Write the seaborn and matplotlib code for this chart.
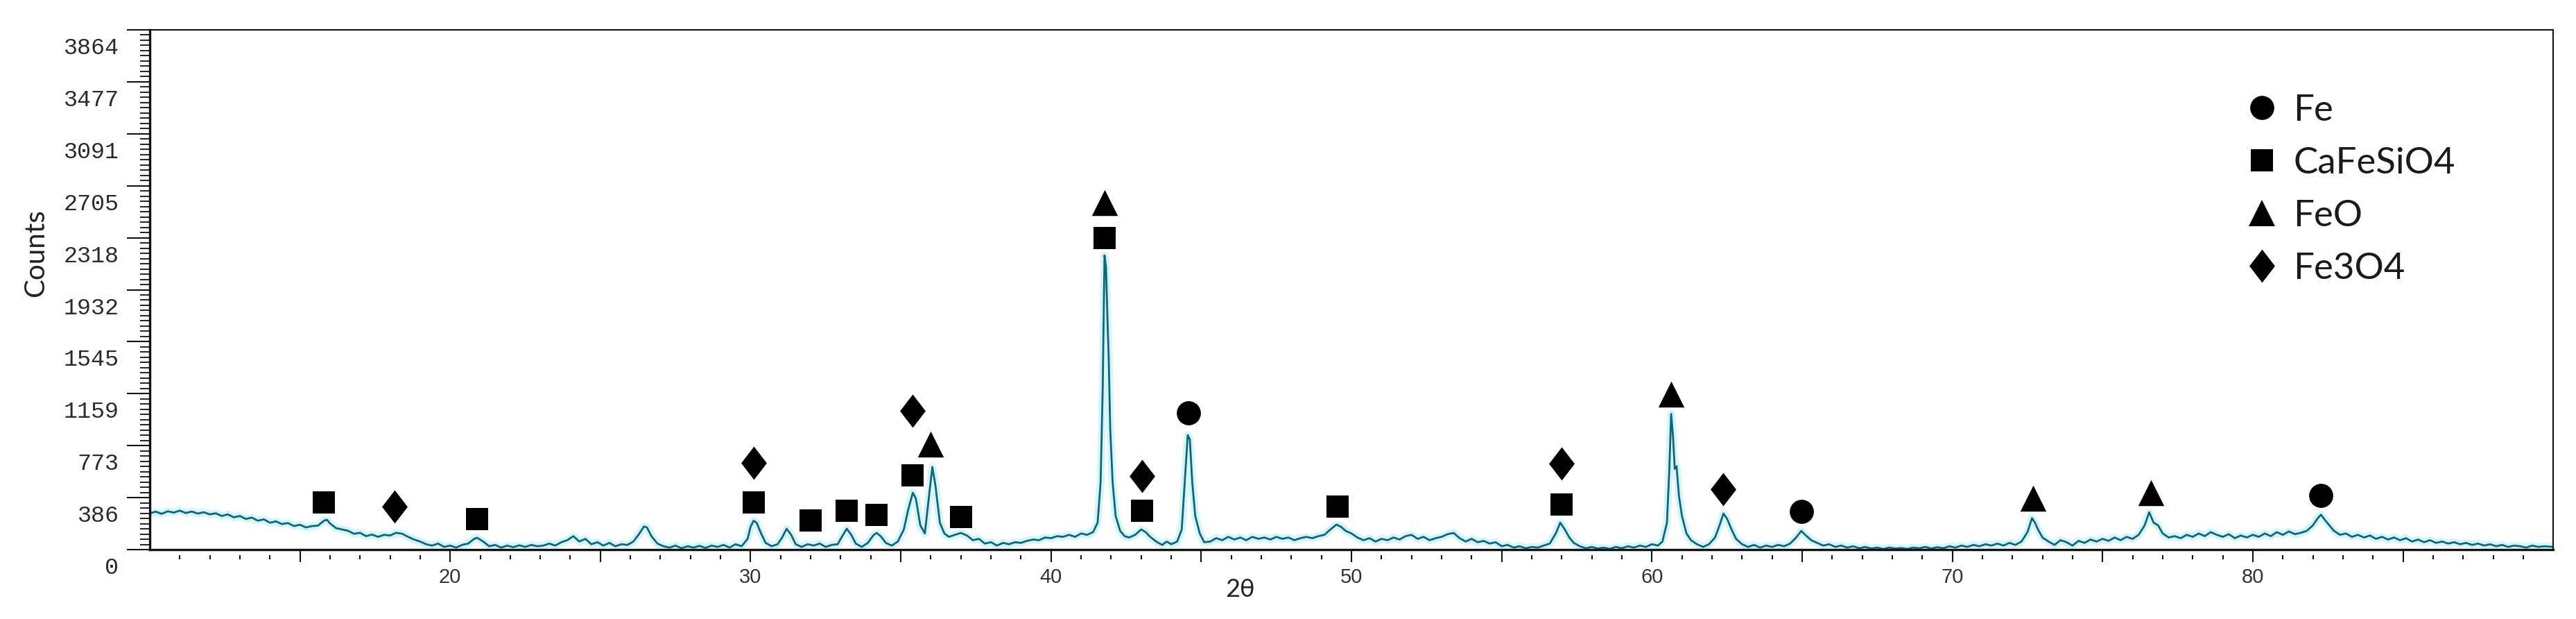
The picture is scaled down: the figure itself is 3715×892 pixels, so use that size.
import numpy as np
import pandas as pd
import matplotlib
matplotlib.use("Agg")
import matplotlib.pyplot as plt
import seaborn as sns
from matplotlib.path import Path
from matplotlib.lines import Line2D
from matplotlib.transforms import ScaledTranslation
from matplotlib.ticker import FixedLocator, MultipleLocator

# ---------------- data ----------------
pattern = [
    (10.0, 270), (10.2, 282), (10.4, 266), (10.6, 285), (10.8, 275), (11.0, 290), (11.2, 272),
    (11.4, 283), (11.6, 268), (11.8, 278), (12.0, 262), (12.2, 270), (12.4, 250), (12.6, 262),
    (12.8, 240), (13.0, 250), (13.2, 228), (13.4, 238), (13.6, 215), (13.8, 225), (14.0, 200),
    (14.2, 210), (14.4, 190), (14.6, 198), (14.8, 175), (15.0, 185), (15.2, 165), (15.4, 175),
    (15.6, 178), (15.8, 215), (15.9, 222), (16.0, 195), (16.2, 160), (16.4, 150), (16.6, 140),
    (16.8, 118), (17.0, 125), (17.2, 100), (17.4, 112), (17.6, 95), (17.8, 110), (18.0, 105),
    (18.2, 125), (18.4, 118), (18.6, 95), (18.8, 75), (19.0, 60), (19.2, 40), (19.4, 30),
    (19.6, 45), (19.8, 20), (20.0, 30), (20.2, 15), (20.4, 35), (20.6, 45), (20.8, 80),
    (20.9, 88), (21.1, 60), (21.3, 25), (21.5, 35), (21.7, 15), (21.9, 30), (22.1, 18),
    (22.3, 32), (22.5, 20), (22.7, 35), (22.9, 25), (23.1, 30), (23.3, 45), (23.5, 30),
    (23.7, 55), (23.9, 70), (24.1, 100), (24.3, 60), (24.5, 80), (24.7, 40), (24.9, 55),
    (25.1, 30), (25.3, 50), (25.5, 25), (25.7, 40), (25.9, 35), (26.1, 60), (26.3, 120),
    (26.45, 172), (26.55, 165), (26.7, 100), (26.9, 45), (27.1, 25), (27.3, 15), (27.5, 30),
    (27.7, 10), (27.9, 25), (28.1, 15), (28.3, 28), (28.5, 12), (28.7, 30), (28.9, 20),
    (29.1, 35), (29.3, 15), (29.5, 40), (29.7, 25), (29.9, 80), (30.0, 170), (30.1, 215),
    (30.2, 200), (30.35, 120), (30.5, 50), (30.7, 25), (30.9, 40), (31.05, 90), (31.2, 155),
    (31.35, 110), (31.5, 40), (31.7, 20), (31.9, 40), (32.1, 30), (32.3, 45), (32.5, 20),
    (32.7, 35), (32.9, 40), (33.05, 100), (33.2, 155), (33.35, 110), (33.5, 45), (33.7, 20),
    (33.9, 50), (34.1, 110), (34.2, 124), (34.35, 95), (34.5, 50), (34.7, 30), (34.9, 60),
    (35.1, 150), (35.25, 300), (35.4, 423), (35.5, 380), (35.65, 180), (35.8, 120), (35.95, 420),
    (36.05, 614), (36.15, 480), (36.3, 200), (36.45, 120), (36.6, 95), (36.8, 110), (37.0, 124),
    (37.2, 105), (37.4, 70), (37.6, 80), (37.8, 45), (38.0, 55), (38.2, 30), (38.4, 50),
    (38.6, 40), (38.8, 55), (39.0, 50), (39.2, 65), (39.4, 75), (39.6, 70), (39.8, 90),
    (40.0, 85), (40.2, 100), (40.4, 95), (40.6, 110), (40.8, 95), (41.0, 120), (41.2, 110),
    (41.4, 130), (41.55, 200), (41.65, 500), (41.72, 1200), (41.78, 2187), (41.83, 2100),
    (41.88, 1700), (41.92, 1420), (41.97, 900), (42.05, 500), (42.15, 250), (42.3, 140),
    (42.45, 100), (42.6, 90), (42.8, 110), (43.0, 150), (43.15, 130), (43.3, 95), (43.5, 60),
    (43.7, 35), (43.85, 60), (44.0, 40), (44.2, 60), (44.35, 150), (44.45, 500), (44.55, 851),
    (44.62, 820), (44.7, 500), (44.8, 250), (44.95, 120), (45.1, 55), (45.3, 60), (45.5, 85),
    (45.7, 70), (45.9, 95), (46.1, 75), (46.3, 90), (46.5, 70), (46.7, 95), (46.9, 80),
    (47.1, 90), (47.3, 75), (47.5, 95), (47.7, 80), (47.9, 90), (48.1, 70), (48.3, 85),
    (48.5, 95), (48.7, 85), (48.9, 100), (49.1, 110), (49.3, 150), (49.5, 186), (49.65, 170),
    (49.8, 140), (50.0, 120), (50.2, 90), (50.4, 70), (50.6, 85), (50.8, 60), (51.0, 80),
    (51.2, 70), (51.4, 90), (51.6, 75), (51.8, 100), (52.0, 110), (52.2, 80), (52.4, 95),
    (52.6, 70), (52.8, 85), (53.0, 95), (53.2, 115), (53.4, 124), (53.6, 85), (53.8, 60),
    (54.0, 80), (54.2, 55), (54.4, 65), (54.6, 45), (54.8, 55), (55.0, 25), (55.2, 35),
    (55.4, 15), (55.6, 25), (55.8, 10), (56.0, 20), (56.2, 15), (56.4, 30), (56.6, 45),
    (56.8, 120), (56.95, 201), (57.1, 150), (57.25, 90), (57.4, 50), (57.6, 25), (57.8, 10),
    (58.0, 20), (58.2, 8), (58.4, 15), (58.6, 5), (58.8, 20), (59.0, 10), (59.2, 25),
    (59.4, 15), (59.6, 30), (59.8, 20), (60.0, 40), (60.2, 30), (60.35, 60), (60.5, 200),
    (60.58, 600), (60.64, 1008), (60.7, 850), (60.76, 600), (60.82, 620), (60.9, 400),
    (61.0, 250), (61.15, 120), (61.3, 70), (61.5, 40), (61.7, 20), (61.9, 40), (62.1, 90),
    (62.25, 180), (62.38, 268), (62.5, 230), (62.65, 150), (62.8, 80), (63.0, 40), (63.2, 20),
    (63.4, 35), (63.6, 15), (63.8, 30), (64.0, 20), (64.2, 35), (64.4, 25), (64.6, 45),
    (64.8, 90), (64.97, 139), (65.1, 110), (65.3, 70), (65.5, 50), (65.7, 30), (65.9, 40),
    (66.1, 20), (66.3, 30), (66.5, 15), (66.7, 25), (66.9, 10), (67.1, 20), (67.3, 8),
    (67.5, 15), (67.7, 5), (67.9, 15), (68.1, 8), (68.3, 12), (68.5, 5), (68.7, 15),
    (68.9, 10), (69.1, 20), (69.3, 8), (69.5, 18), (69.7, 10), (69.9, 25), (70.1, 15),
    (70.3, 30), (70.5, 20), (70.7, 35), (70.9, 25), (71.1, 40), (71.3, 30), (71.5, 45),
    (71.7, 30), (71.9, 50), (72.1, 35), (72.3, 60), (72.5, 130), (72.65, 234), (72.75, 200),
    (72.85, 150), (73.0, 90), (73.2, 60), (73.4, 35), (73.6, 70), (73.8, 55), (74.0, 30),
    (74.2, 65), (74.4, 50), (74.6, 75), (74.8, 60), (75.0, 80), (75.2, 65), (75.4, 90),
    (75.6, 70), (75.8, 95), (76.0, 80), (76.2, 110), (76.4, 180), (76.55, 278), (76.7, 200),
    (76.85, 180), (77.0, 120), (77.2, 90), (77.4, 100), (77.6, 85), (77.8, 110), (78.0, 95),
    (78.2, 120), (78.4, 100), (78.6, 130), (78.8, 110), (79.0, 95), (79.2, 115), (79.4, 85),
    (79.6, 105), (79.8, 90), (80.0, 110), (80.2, 95), (80.4, 120), (80.6, 100), (80.8, 130),
    (81.0, 110), (81.2, 135), (81.4, 115), (81.6, 125), (81.8, 140), (82.0, 180), (82.15, 230),
    (82.27, 260), (82.4, 220), (82.55, 180), (82.7, 140), (82.9, 110), (83.1, 120), (83.3, 95),
    (83.5, 110), (83.7, 90), (83.9, 105), (84.1, 80), (84.3, 95), (84.5, 75), (84.7, 90),
    (84.9, 70), (85.1, 85), (85.3, 60), (85.5, 75), (85.7, 55), (85.9, 70), (86.1, 50),
    (86.3, 60), (86.5, 45), (86.7, 55), (86.9, 40), (87.1, 50), (87.3, 35), (87.5, 45),
    (87.7, 30), (87.9, 40), (88.1, 25), (88.3, 35), (88.5, 20), (88.7, 30), (88.9, 25),
    (89.1, 15), (89.3, 30), (89.5, 20), (89.7, 25), (90.0, 20),
]
two_theta = [p[0] for p in pattern]
counts = [p[1] for p in pattern]

phases = ["Fe", "CaFeSiO4", "FeO", "Fe3O4"]
fe_theta = [44.58, 64.97, 82.27]
fe_y = [1018, 284, 402]
cafesio4_theta = [15.79, 20.89, 30.1, 32.0, 33.2, 34.2, 35.4, 37.0, 41.79, 43.03, 49.54, 57.0]
cafesio4_y = [351, 229, 352, 217, 290, 258, 552, 242, 2316, 289, 321, 335]
feo_theta = [35.99, 41.79, 60.65, 72.68, 76.6]
feo_y = [784, 2580, 1157, 383, 423]
fe3o4_theta = [18.14, 30.1, 35.4, 43.03, 57.0, 62.38]
fe3o4_y = [320, 646, 1033, 547, 640, 449]

y_max = 3864
y_tick_labels = ["0", "386", "773", "1159", "1545", "1932", "2318", "2705", "3091", "3477", "3864"]
x_labeled = [20, 30, 40, 50, 60, 70, 80]

# ---------------- styling ----------------
sns.set_style("white")
plt.rcParams["font.family"] = ["Lato", "DejaVu Sans"]

diamond = Path([(0, 1), (0.77, 0), (0, -1), (-0.77, 0), (0, 1)],
               [Path.MOVETO, Path.LINETO, Path.LINETO, Path.LINETO, Path.CLOSEPOLY])
marker_style = {"Fe": ("o", 25), "CaFeSiO4": ("s", 23.5), "FeO": ("^", 27), "Fe3O4": (diamond, 34.5)}

fig = plt.figure(figsize=(37.16, 8.92), dpi=100)
ax = fig.add_axes([0.0581, 0.1121, 0.9328, 0.8397])

df = pd.DataFrame({"two_theta": two_theta, "counts": counts})
sns.lineplot(data=df, x="two_theta", y="counts", ax=ax, color="#bdf2fa", lw=8,
             alpha=0.65, estimator=None, sort=False, zorder=1)
sns.lineplot(data=df, x="two_theta", y="counts", ax=ax, color="#10657a", lw=2.0,
             estimator=None, sort=False, zorder=2)

mk = pd.DataFrame({
    "two_theta": fe_theta + cafesio4_theta + feo_theta + fe3o4_theta,
    "counts": fe_y + cafesio4_y + feo_y + fe3o4_y,
    "phase": (["Fe"] * len(fe_theta) + ["CaFeSiO4"] * len(cafesio4_theta)
              + ["FeO"] * len(feo_theta) + ["Fe3O4"] * len(fe3o4_theta)),
})
for ph in phases:
    m, ms = marker_style[ph]
    sns.scatterplot(data=mk[mk.phase == ph], x="two_theta", y="counts", ax=ax,
                    marker=m, s=ms ** 2, color="black", linewidth=0, legend=False, zorder=3)

handles = [Line2D([], [], ls="none", marker=marker_style[p][0], markersize=marker_style[p][1],
                  color="black", markeredgewidth=0, label=p) for p in phases]
ax.legend(handles=handles, loc="upper left", bbox_to_anchor=(0.8713, 0.876), frameon=False,
          borderpad=0, borderaxespad=0, handlelength=1.0, handletextpad=0.35, labelspacing=0.55,
          prop={"family": ["Lato", "DejaVu Sans"], "size": 38}, labelcolor="#1a1a1a")

ax.set_xlim(10, 90)
ax.set_ylim(0, y_max)

# x axis ticks
ax.xaxis.set_major_locator(FixedLocator(np.arange(15, 90, 5)))
ax.set_xticklabels([str(int(v)) if int(v) in x_labeled else "" for v in np.arange(15, 90, 5)],
                   fontfamily="Liberation Sans", fontsize=21, color="#333333")
ax.tick_params(axis="x", which="major", bottom=True, direction="out", length=13, width=1.5,
               color="#111111", pad=6)
minor_x = [v for v in range(11, 90) if v % 5 != 0]
ax.vlines(minor_x, -0.019, -0.011, transform=ax.get_xaxis_transform(), clip_on=False,
          color="#111111", lw=1.5)

# y axis ticks
ax.yaxis.set_major_locator(FixedLocator(np.linspace(0, y_max, 11)))
ax.yaxis.set_minor_locator(MultipleLocator(y_max / 100))
ax.set_yticklabels(y_tick_labels, fontfamily="Liberation Mono", fontsize=24, color="#2a2a2a")
ax.tick_params(axis="y", which="major", left=True, direction="out", length=24, width=1.5,
               color="#111111", pad=8)
ax.tick_params(axis="y", which="minor", left=True, direction="out", length=10, width=1.3,
               color="#111111")
offset = ScaledTranslation(0, -0.23, fig.dpi_scale_trans)
for lab in ax.get_yticklabels():
    lab.set_transform(lab.get_transform() + offset)

for side, w in [("left", 2.4), ("bottom", 2.4), ("top", 1.5), ("right", 1.5)]:
    ax.spines[side].set_linewidth(w)
    ax.spines[side].set_color("#111111")

ax.set_ylabel("Counts", fontsize=29, color="#222222", va="center",
              fontfamily=["Lato", "DejaVu Sans"])
ax.yaxis.set_label_coords(-0.0473, 0.571)
ax.set_xlabel("2θ", fontsize=26, color="#222222", va="center",
              fontfamily=["Lato", "DejaVu Sans"])
ax.xaxis.set_label_coords(0.4538, -0.0774)

fig.savefig("out.png", dpi=100, facecolor="white")
